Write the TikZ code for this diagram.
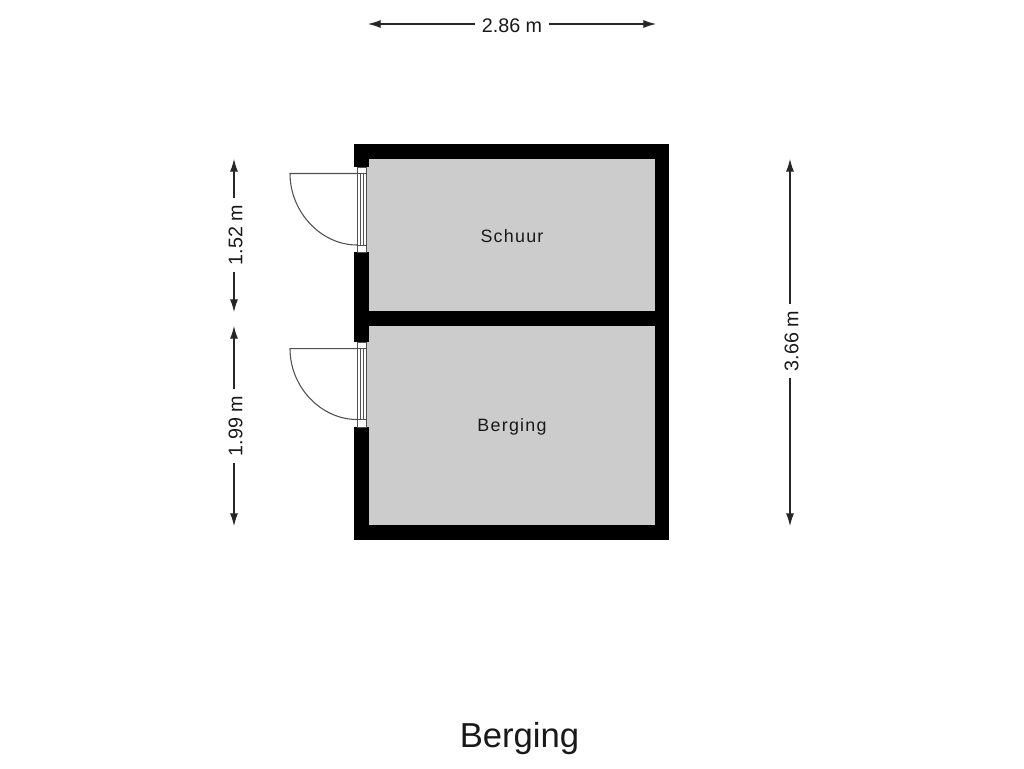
\documentclass[tikz,border=0pt]{standalone}
\usepackage{fontspec}
\setmainfont{Liberation Sans}
\usetikzlibrary{arrows.meta}
\newfontfamily\spacedfont[LetterSpace=7]{Liberation Sans}
\definecolor{roomgray}{HTML}{CCCCCC}
\definecolor{linegray}{HTML}{505050}
\tikzset{
  x=0.75pt,y=-0.75pt,
  wall/.style={fill=black,draw=none},
  room/.style={fill=roomgray,draw=none},
  framebox/.style={fill=white,draw=linegray,line width=0.7pt},
  framebar/.style={draw=linegray,line width=0.7pt},
  doorleaf/.style={draw=linegray,line width=0.8pt},
  dimline/.style={draw=black!85,line width=0.8pt,shorten <=5pt,-{Latex[length=9.5pt,width=6pt]}},
  dimlabel/.style={font=\fontsize{14.8pt}{16pt}\selectfont,text=black!90,inner sep=0pt},
  roomlabel/.style={font=\fontsize{13.4pt}{16pt}\spacedfont,text=black!90,inner sep=0pt},
  titlelabel/.style={font=\fontsize{26pt}{30pt}\selectfont,text=black!90,inner sep=0pt},
}
\begin{document}
\begin{tikzpicture}
\useasboundingbox (0,0) rectangle (1024,768);
\fill[white] (0,0) rectangle (1024,768);
% walls and rooms
\fill[wall] (354,144) rectangle (669,540);
\fill[room] (369,159) rectangle (655,311);
\fill[room] (369,326) rectangle (655,525);
% door openings
\fill[white] (354,167) rectangle (369,252);
\fill[roomgray] (366,167) rectangle (369,252);
\fill[white] (354,342) rectangle (369,427);
\fill[roomgray] (366,342) rectangle (369,427);
% upper door
\draw[framebox] (357,167) rectangle (366,252);
\draw[framebar] (360,173.5) -- (360,245);
\draw[framebar] (363,173.5) -- (363,245);
\draw[framebar] (357,173.5) -- (366,173.5);
\draw[framebar] (357,245) -- (366,245);
\draw[doorleaf] (357,173.5) -- (290,173.5) .. controls (290,212) and (321,245) .. (357,245);
% lower door
\draw[framebox] (357,342) rectangle (366,427);
\draw[framebar] (360,348.7) -- (360,419.5);
\draw[framebar] (363,348.7) -- (363,419.5);
\draw[framebar] (357,348.7) -- (366,348.7);
\draw[framebar] (357,419.5) -- (366,419.5);
\draw[doorleaf] (357,348.7) -- (290,348.7) .. controls (290,387) and (321,419.5) .. (357,419.5);
% room labels
\node[roomlabel] (schuur) at (512,236) {Schuur};
\node[roomlabel] (berging) at (512,427) {Berging};
\node[titlelabel] (title) at (519.5,739) {Berging};
% dimensions
\node[dimlabel] (dtop) at (512,26) {2.86 m};
\coordinate (dtopL) at (368,24);
\coordinate (dtopR) at (656,24);
\draw[dimline] (dtop.west |- dtopL) -- (dtopL);
\draw[dimline] (dtop.east |- dtopR) -- (dtopR);
\node[dimlabel,rotate=90] (da) at (235.5,235) {1.52 m};
\coordinate (daT) at (234,159);
\coordinate (daB) at (234,312);
\draw[dimline] (da.east -| daT) -- (daT);
\draw[dimline] (da.west -| daB) -- (daB);
\node[dimlabel,rotate=90] (db) at (235.5,426) {1.99 m};
\coordinate (dbT) at (234,326);
\coordinate (dbB) at (234,526);
\draw[dimline] (db.east -| dbT) -- (dbT);
\draw[dimline] (db.west -| dbB) -- (dbB);
\node[dimlabel,rotate=90] (dc) at (791.5,341) {3.66 m};
\coordinate (dcT) at (790,159);
\coordinate (dcB) at (790,526);
\draw[dimline] (dc.east -| dcT) -- (dcT);
\draw[dimline] (dc.west -| dcB) -- (dcB);
\end{tikzpicture}
\end{document}
